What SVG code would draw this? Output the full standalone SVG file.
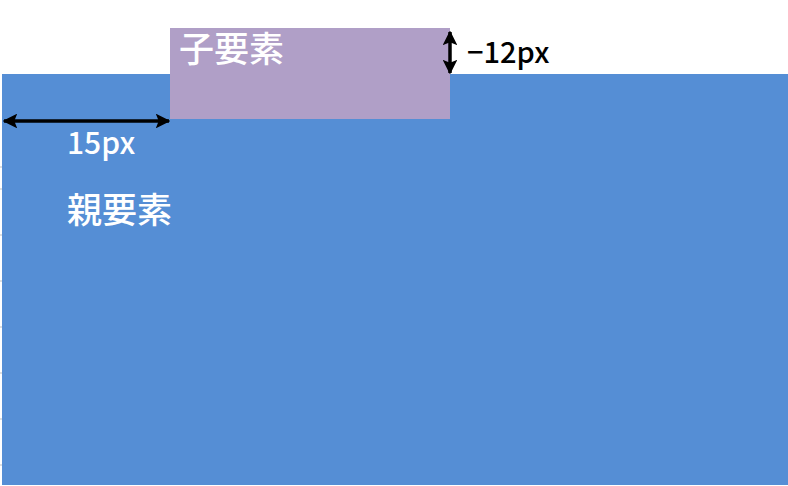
<svg xmlns="http://www.w3.org/2000/svg" width="788" height="486" viewBox="0 0 788 486">
  <style>
    .lbl { font-family: "Noto Sans CJK JP", "Noto Sans", sans-serif; font-weight: 500; }
    .white { fill: #ffffff; }
    .black { fill: #000000; }
    .arrow { stroke: #000000; stroke-width: 3.5; fill: none; }
    .tick { stroke: #bfbfbf; stroke-width: 1; }
  </style>
  <defs>
    <marker id="ah" viewBox="0 0 10 10" refX="9" refY="5" markerWidth="4.2" markerHeight="4.2" orient="auto-start-reverse" markerUnits="strokeWidth">
      <path d="M0,0 L10,5 L0,10 L2,5 Z" fill="#000000"/>
    </marker>
  </defs>
  <rect x="0" y="0" width="788" height="486" fill="#ffffff"/>
  <g id="ticks">
    <line class="tick" x1="0" y1="167" x2="2" y2="167"/>
    <line class="tick" x1="0" y1="189" x2="2" y2="189"/>
    <line class="tick" x1="0" y1="235" x2="2" y2="235"/>
    <line class="tick" x1="0" y1="281" x2="2" y2="281"/>
    <line class="tick" x1="0" y1="327" x2="2" y2="327"/>
    <line class="tick" x1="0" y1="373" x2="2" y2="373"/>
    <line class="tick" x1="0" y1="419" x2="2" y2="419"/>
    <line class="tick" x1="0" y1="465" x2="2" y2="465"/>
  </g>
  <g id="parent">
    <rect x="2" y="74" width="786" height="411" fill="#558ed5"/>
    <text class="lbl white" x="67" y="223" font-size="35">親要素</text>
  </g>
  <g id="child">
    <rect x="170" y="28" width="280" height="91" fill="#b09fc7"/>
    <text class="lbl white" x="179" y="62" font-size="35">子要素</text>
  </g>
  <g id="connectors">
    <line class="arrow" x1="4" y1="121" x2="169" y2="121" marker-start="url(#ah)" marker-end="url(#ah)"/>
    <line class="arrow" x1="450" y1="32" x2="450" y2="73" marker-start="url(#ah)" marker-end="url(#ah)"/>
  </g>
  <g id="labels">
    <text class="lbl white" x="67" y="154" font-size="30">15px</text>
    <text class="lbl black" x="467" y="63" font-size="29">−12px</text>
  </g>
</svg>
